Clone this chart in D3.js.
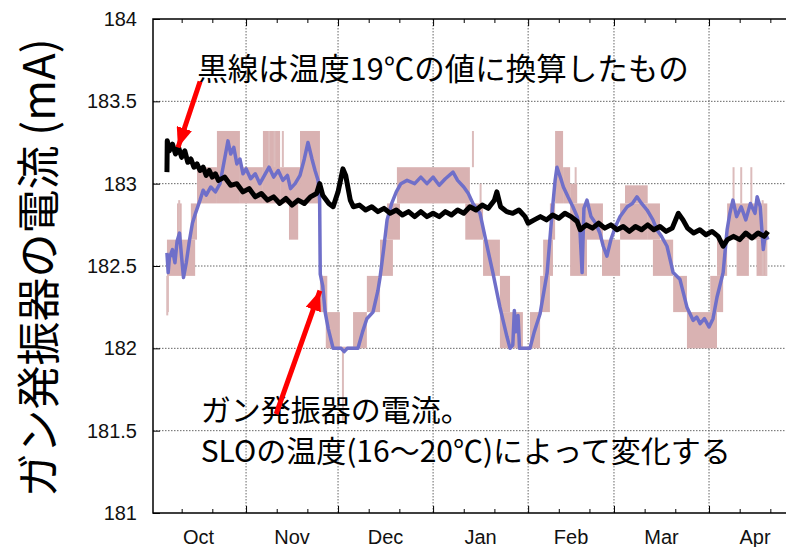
<!DOCTYPE html>
<html>
<head>
<meta charset="utf-8">
<script src="https://cdn.jsdelivr.net/npm/d3@7"></script>
<style>
  body { margin: 0; background: #fff; }
  svg { display: block; }
  .num { font-family: "Liberation Sans", Arial, sans-serif; fill: #111; }
  .jp { font-family: "Noto Sans CJK JP", sans-serif; fill: #000; }
</style>
</head>
<body>
<svg id="chart" width="786" height="547"></svg>
<script>
// days are counted from 1 Oct 2010, values in mA
const yTicks = [181, 181.5, 182, 182.5, 183, 183.5, 184];
const monthNames = ['Oct', 'Nov', 'Dec', 'Jan', 'Feb', 'Mar', 'Apr'];

// temperature-corrected current (black)
const blackLine = [
  [5.2, 183.07], [5.3, 183.26], [6, 183.2], [7, 183.24], [8, 183.18], [9, 183.22], [10, 183.16],
  [11, 183.2], [12, 183.13], [13, 183.15], [14, 183.1], [15, 183.12], [16, 183.08], [17, 183.1],
  [18, 183.05], [19, 183.08], [20, 183.04], [21, 183.06], [22, 183.02], [24, 183.04], [26, 182.99],
  [28, 183.0], [30, 182.95], [32, 182.97], [34, 182.92], [36, 182.94], [38, 182.9], [40, 182.92],
  [42, 182.88], [44, 182.91], [46, 182.87], [48, 182.9], [50, 182.88], [52, 182.92], [54, 182.94],
  [55, 183.0], [56, 182.93], [58, 182.88], [59.4, 182.86], [61, 182.95], [62.6, 183.09], [63.5, 183.05],
  [65, 182.9], [66, 182.86], [68, 182.87], [70, 182.84], [72, 182.86], [74, 182.83], [76, 182.85],
  [78, 182.82], [80, 182.84], [82, 182.81], [84, 182.83], [86, 182.8], [88, 182.83], [90, 182.8],
  [92, 182.82], [94, 182.8], [96, 182.83], [98, 182.81], [100, 182.84], [102, 182.82], [104, 182.86],
  [106, 182.84], [108, 182.87], [110, 182.85], [112, 182.9], [112.8, 182.95], [114, 182.86], [116, 182.83],
  [118, 182.82], [120, 182.84], [122, 182.8], [123, 182.76], [125, 182.78], [127, 182.8], [129, 182.78],
  [131, 182.81], [133, 182.79], [135, 182.82], [137, 182.8], [139, 182.77], [140, 182.72], [142, 182.75],
  [144, 182.73], [146, 182.76], [148, 182.73], [150, 182.75], [152, 182.72], [154, 182.74], [156, 182.71],
  [158, 182.74], [160, 182.72], [162, 182.75], [164, 182.72], [166, 182.74], [168, 182.71], [170, 182.73],
  [172, 182.82], [173.5, 182.78], [175, 182.73], [177, 182.7], [179, 182.72], [181, 182.69], [183, 182.71],
  [185, 182.68], [186.6, 182.62], [188, 182.66], [190, 182.68], [192, 182.66], [194, 182.7], [196, 182.67],
  [198, 182.7], [200, 182.68], [201.2, 182.71]
];

// raw gunn oscillator current (blue)
const blueLine = [
  [5.2, 182.58], [5.6, 182.46], [6, 182.55], [7, 182.6], [7.8, 182.52], [8.5, 182.65], [9.3, 182.7],
  [10, 182.55], [10.6, 182.43], [11.5, 182.52], [12.5, 182.65], [13.5, 182.76], [14.5, 182.82], [16, 182.9],
  [17, 182.96], [18, 182.93], [19.5, 182.98], [21, 182.95], [22.5, 183.0], [23.5, 183.1], [24.5, 183.2],
  [25.1, 183.26], [26, 183.18], [27, 183.22], [28, 183.12], [29, 183.15], [30, 183.06], [31, 183.09],
  [32.5, 183.03], [34, 183.06], [35.5, 183.0], [37, 183.05], [38.5, 183.1], [40, 183.04], [41.5, 183.08],
  [43, 183.02], [44.5, 183.05], [45.5, 182.97], [47, 183.0], [48.6, 183.05], [50, 183.15], [51.2, 183.25],
  [52.5, 183.15], [53.5, 183.08], [54.5, 183.02], [55, 182.9], [55.2, 182.45], [56, 182.38], [56.8, 182.22],
  [57.8, 182.12], [59.4, 182.0], [62, 182.0], [63, 181.98], [64, 182.0], [67.5, 182.0], [69, 182.1],
  [70.4, 182.18], [72.4, 182.22], [74, 182.35], [74.7, 182.43], [76, 182.62], [77, 182.78], [78.5, 182.88],
  [80, 182.95], [81.5, 183.0], [83.5, 183.02], [86, 183.0], [88, 183.04], [90, 183.0], [92, 183.04],
  [94, 182.99], [96, 183.03], [98.5, 183.07], [100, 183.02], [102, 182.98], [103.5, 182.94], [105, 182.88],
  [107.3, 182.82], [109.6, 182.62], [111.5, 182.46], [113.8, 182.25], [116.1, 182.07], [117.1, 182.0],
  [118, 182.02], [118.5, 182.23], [119, 182.1], [119.7, 182.2], [120.2, 182.0], [123.6, 182.0], [125, 182.1],
  [126.9, 182.21], [129.2, 182.46], [130.8, 182.82], [131.8, 183.02], [132.4, 183.1], [133.5, 183.04],
  [134.5, 182.98], [136, 182.92], [137.6, 182.86], [139, 182.8], [139.9, 182.72], [140.6, 182.46],
  [141.2, 182.85], [142.2, 182.9], [143.5, 182.8], [145, 182.76], [146.4, 182.7], [147.5, 182.62],
  [148.7, 182.56], [150, 182.66], [151.5, 182.74], [153, 182.8], [155.3, 182.86], [157, 182.88],
  [158.5, 182.92], [160, 182.88], [161.8, 182.84], [163.7, 182.78], [165, 182.72], [166.5, 182.68],
  [168.3, 182.62], [170.3, 182.46], [172.5, 182.42], [174.8, 182.25], [176.8, 182.17], [178, 182.19],
  [179.1, 182.15], [180.5, 182.18], [182, 182.13], [183.3, 182.18], [184.6, 182.31], [186.6, 182.46],
  [187.9, 182.72], [188.8, 182.82], [189.8, 182.9], [191, 182.8], [192.5, 182.86], [194, 182.78],
  [195.5, 182.88], [197, 182.82], [197.7, 182.92], [198.7, 182.86], [199.7, 182.6], [200.4, 182.7],
  [201.2, 182.66]
];

// quantised temperature band (pink): [startDay, endDay, low, high]
const pinkSteps = [
  [5.2, 14.4, 182.44, 182.66], [5.2, 5.8, 182.22, 182.44], [8.5, 10, 182.66, 182.88],
  [13, 15, 182.66, 182.88], [15, 21.5, 182.88, 183.1], [21.5, 29, 182.88, 183.32],
  [29, 36.5, 182.88, 183.1], [36.5, 42.1, 182.88, 183.32], [42.1, 48.6, 182.88, 183.1],
  [45, 48, 182.66, 182.88], [48.6, 55.1, 182.88, 183.32], [55.1, 57.5, 182.22, 182.44],
  [57, 61.6, 182.0, 182.22], [59.4, 67.5, 181.99, 182.01], [65.9, 70.4, 182.0, 182.22],
  [70.4, 74.7, 182.22, 182.44], [74.7, 78.9, 182.44, 182.66], [77, 81.2, 182.66, 182.88],
  [80.2, 104, 182.88, 183.1], [102.5, 108.3, 182.66, 182.88], [108.3, 113.8, 182.44, 182.66],
  [113.8, 117.1, 182.22, 182.44], [113.8, 121.3, 182.0, 182.22], [121.3, 123.6, 181.99, 182.01],
  [123.6, 126.9, 182.0, 182.22], [126.9, 130.1, 182.22, 182.44], [127.9, 131.1, 182.44, 182.66],
  [130.1, 131.8, 182.66, 182.88], [131.8, 134.4, 182.88, 183.32], [134.4, 136.7, 182.88, 183.1],
  [136.7, 142.2, 182.44, 182.88], [136.7, 139, 182.88, 183.0], [142.2, 147.4, 182.66, 182.88],
  [147.1, 153, 182.44, 182.66], [153, 161.8, 182.66, 182.88], [154.6, 162, 182.88, 182.99],
  [161.8, 166, 182.66, 182.88], [163.7, 170.3, 182.44, 182.66], [170.3, 174.8, 182.22, 182.44],
  [174.8, 184.6, 182.0, 182.22], [182.4, 186.6, 182.22, 182.44], [184.6, 187.9, 182.44, 182.66],
  [187.9, 201, 182.66, 182.88], [191, 195, 182.44, 182.66], [197.5, 201, 182.44, 182.66]
];

// single-sample spikes in the band: [day, low, high]
const pinkSpikes = [
  [5.3, 182.2, 182.44], [9.2, 182.66, 182.9], [38.5, 183.1, 183.32], [40.3, 183.1, 183.32],
  [43, 183.1, 183.32], [62.6, 181.56, 182.0], [105, 183.1, 183.32], [107.5, 182.88, 183.0],
  [138.5, 183.0, 183.1], [190, 182.88, 183.1], [192.5, 182.88, 183.1], [195.8, 182.88, 183.1],
  [199.5, 182.44, 182.9], [200.6, 182.44, 182.66]
];

// annotations: text positions and arrows in data space
const noteTop = { day: 15.1, value: 183.63, text: '黒線は温度19℃の値に換算したもの' };
const noteBottom = [
  { day: 16.2, value: 181.56, text: 'ガン発振器の電流。' },
  { day: 16.2, value: 181.31, text: 'SLOの温度(16〜20℃)によって変化する' }
];
const arrows = [
  { from: [16, 183.62], to: [8.8, 183.22] },
  { from: [40.8, 181.6], to: [55.1, 182.35] }
];

const seasonStart = new Date(2010, 9, 1);
const toDate = d => d3.timeMinute.offset(seasonStart, Math.round(d * 1440));

const W = 786, H = 547;
const plot = { left: 153, top: 19, bottom: 513, right: 801 };

const svg = d3.select('#chart');
svg.append('rect').attr('width', W).attr('height', H).attr('fill', '#fff');

const x = d3.scaleTime().domain([toDate(0.65), new Date(2011, 4, 1)]).range([plot.left, plot.right]);
const y = d3.scaleLinear().domain([181, 184]).range([plot.bottom, plot.top]);

svg.append('defs').append('clipPath').attr('id', 'clip')
  .append('rect').attr('x', plot.left).attr('y', plot.top)
  .attr('width', plot.right - plot.left).attr('height', plot.bottom - plot.top);

const monthStarts = d3.timeMonth.range(new Date(2010, 9, 1), new Date(2011, 5, 1));
const minorDays = d3.timeDay.range(new Date(2010, 9, 2), new Date(2011, 4, 1))
  .filter(d => d.getDate() === 11 || d.getDate() === 21);

// grid
const grid = svg.append('g').attr('stroke', '#666').attr('stroke-width', 1).attr('stroke-dasharray', '1.5,1.5');
grid.selectAll('line.h').data(yTicks.slice(1, -1)).join('line')
  .attr('x1', plot.left).attr('x2', plot.right).attr('y1', d => y(d)).attr('y2', d => y(d));
grid.selectAll('line.v').data(monthStarts.slice(1, -1)).join('line')
  .attr('x1', d => x(d)).attr('x2', d => x(d)).attr('y1', plot.top).attr('y2', plot.bottom);

const data = svg.append('g').attr('clip-path', 'url(#clip)');

data.append('g').attr('fill', '#d9b2b2')
  .selectAll('rect').data(pinkSteps).join('rect')
  .attr('x', d => x(toDate(d[0])))
  .attr('width', d => x(toDate(d[1])) - x(toDate(d[0])))
  .attr('y', d => y(d[3]))
  .attr('height', d => y(d[2]) - y(d[3]));

data.append('g').attr('stroke', '#dcbcbc').attr('stroke-width', 2)
  .selectAll('line').data(pinkSpikes).join('line')
  .attr('x1', d => x(toDate(d[0]))).attr('x2', d => x(toDate(d[0])))
  .attr('y1', d => y(d[1])).attr('y2', d => y(d[2]));

const line = d3.line().x(d => x(toDate(d[0]))).y(d => y(d[1]));

data.append('path').datum(blueLine).attr('d', line)
  .attr('fill', 'none').attr('stroke', '#6f6fc9').attr('stroke-width', 3.5).attr('stroke-linejoin', 'round');

data.append('path').datum(blackLine).attr('d', line)
  .attr('fill', 'none').attr('stroke', '#000').attr('stroke-width', 5).attr('stroke-linejoin', 'round');

// axes
const yAxis = d3.axisLeft(y).tickValues(yTicks).tickSize(-7).tickPadding(16).tickFormat(d => String(d));
const gy = svg.append('g').attr('transform', `translate(${plot.left},0)`).call(yAxis);
gy.select('.domain').remove();
gy.selectAll('.tick line').attr('stroke', '#000');
gy.selectAll('.tick text').attr('class', 'num').attr('font-size', 20);

const xMajor = d3.axisBottom(x).tickValues(monthStarts.slice(1, -1)).tickSize(-7).tickFormat('');
const xMinor = d3.axisBottom(x).tickValues(minorDays).tickSize(-4).tickFormat('');
[xMajor, xMinor].forEach(ax => {
  const g = svg.append('g').attr('transform', `translate(0,${plot.bottom})`).call(ax);
  g.select('.domain').remove();
  g.selectAll('.tick line').attr('stroke', '#000');
});
const xMajorTop = d3.axisTop(x).tickValues(monthStarts.slice(1, -1)).tickSize(-7).tickFormat('');
const xMinorTop = d3.axisTop(x).tickValues(minorDays).tickSize(-4).tickFormat('');
[xMajorTop, xMinorTop].forEach(ax => {
  const g = svg.append('g').attr('transform', `translate(0,${plot.top})`).call(ax);
  g.select('.domain').remove();
  g.selectAll('.tick line').attr('stroke', '#000');
});

svg.append('g').selectAll('text').data(monthNames).join('text')
  .attr('class', 'num').attr('font-size', 20).attr('text-anchor', 'middle')
  .attr('x', (d, i) => (x(monthStarts[i]) + x(monthStarts[i + 1])) / 2)
  .attr('y', plot.bottom + 31)
  .text(d => d);

// frame
svg.append('path')
  .attr('d', `M${plot.right},${plot.top}H${plot.left}V${plot.bottom}H${plot.right}`)
  .attr('fill', 'none').attr('stroke', '#000').attr('stroke-width', 1.5);

// y title
svg.append('text').attr('class', 'jp')
  .attr('transform', `translate(55,${(plot.top + plot.bottom) / 2 + 2}) rotate(-90)`)
  .attr('text-anchor', 'middle').attr('font-size', 44)
  .text('ガン発振器の電流 (mA)');

// annotations
svg.append('text').attr('class', 'jp').attr('font-size', 30.5)
  .attr('x', x(toDate(noteTop.day))).attr('y', y(noteTop.value)).text(noteTop.text);
svg.append('g').selectAll('text').data(noteBottom).join('text')
  .attr('class', 'jp').attr('font-size', 30)
  .attr('x', d => x(toDate(d.day))).attr('y', d => y(d.value)).text(d => d.text);

svg.append('defs').append('marker').attr('id', 'head')
  .attr('markerUnits', 'userSpaceOnUse').attr('viewBox', '0 0 20 16')
  .attr('refX', 20).attr('refY', 8).attr('markerWidth', 20).attr('markerHeight', 16)
  .attr('orient', 'auto')
  .append('path').attr('d', 'M0,0L20,8L0,16Z').attr('fill', '#ff0000');

svg.append('g').selectAll('line').data(arrows).join('line')
  .attr('x1', d => x(toDate(d.from[0]))).attr('y1', d => y(d.from[1]))
  .attr('x2', d => x(toDate(d.to[0]))).attr('y2', d => y(d.to[1]))
  .attr('stroke', '#ff0000').attr('stroke-width', 5)
  .attr('marker-end', 'url(#head)');
</script>
</body>
</html>
